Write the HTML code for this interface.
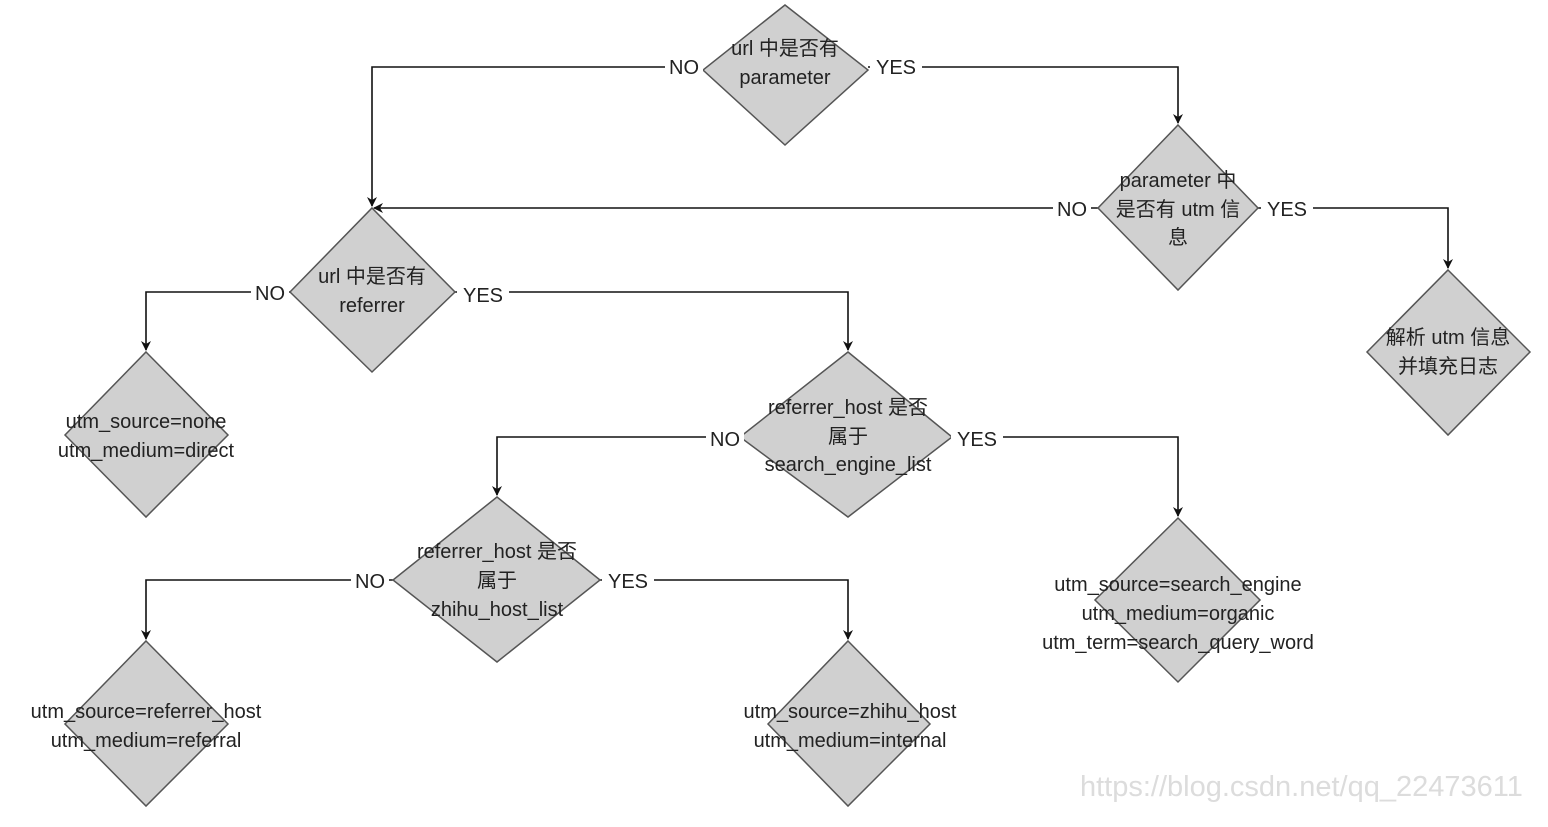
<!DOCTYPE html>
<html><head><meta charset="utf-8"><style>
html,body{margin:0;padding:0;background:#fff;}
svg text{font-family:"Liberation Sans","Noto Sans CJK SC",sans-serif;font-size:20px;fill:#222;}
</style></head><body>
<svg width="1548" height="822" viewBox="0 0 1548 822" xmlns="http://www.w3.org/2000/svg">
<defs><marker id="a" markerWidth="10" markerHeight="10" refX="9" refY="5" orient="auto" markerUnits="userSpaceOnUse"><path d="M0,0 L10,5 L0,10 L3,5 z" fill="#111"/></marker></defs>
<g fill="none" stroke="#111" stroke-width="1.6">
<polyline points="703,67 372,67 372,206" marker-end="url(#a)"/>
<polyline points="868,67 1178,67 1178,123" marker-end="url(#a)"/>
<polyline points="1098,208 374,208" marker-end="url(#a)"/>
<polyline points="1258,208 1448,208 1448,268" marker-end="url(#a)"/>
<polyline points="290,292 146,292 146,350" marker-end="url(#a)"/>
<polyline points="455,292 848,292 848,350" marker-end="url(#a)"/>
<polyline points="740,437 497,437 497,495" marker-end="url(#a)"/>
<polyline points="952,437 1178,437 1178,516" marker-end="url(#a)"/>
<polyline points="393,580 146,580 146,639" marker-end="url(#a)"/>
<polyline points="600,580 848,580 848,639" marker-end="url(#a)"/>
</g>
<g fill="#d0d0d0" stroke="#555" stroke-width="1.5">
<polygon points="785,5 868,70 785,145 703,70"/>
<polygon points="1178,125 1258,208 1178,290 1098,208"/>
<polygon points="372,208 455,292 372,372 290,292"/>
<polygon points="146,352 228,435 146,517 65,435"/>
<polygon points="848,352 952,437 848,517 740,437"/>
<polygon points="1448,270 1530,352 1448,435 1367,352"/>
<polygon points="497,497 600,580 497,662 393,580"/>
<polygon points="1178,518 1260,600 1178,682 1095,600"/>
<polygon points="146,641 228,724 146,806 65,724"/>
<polygon points="848,641 930,724 848,806 768,724"/>
</g>
<g text-anchor="middle">
<rect x="665" y="55" width="38" height="24" fill="#fff"/><text x="684" y="74">NO</text>
<rect x="870" y="55" width="52" height="24" fill="#fff"/><text x="896" y="74">YES</text>
<rect x="1053" y="196" width="38" height="24" fill="#fff"/><text x="1072" y="216">NO</text>
<rect x="1261" y="196" width="52" height="24" fill="#fff"/><text x="1287" y="216">YES</text>
<rect x="251" y="280" width="38" height="24" fill="#fff"/><text x="270" y="300">NO</text>
<rect x="457" y="280" width="52" height="24" fill="#fff"/><text x="483" y="302">YES</text>
<rect x="706" y="425" width="38" height="24" fill="#fff"/><text x="725" y="446">NO</text>
<rect x="951" y="425" width="52" height="24" fill="#fff"/><text x="977" y="446">YES</text>
<rect x="351" y="568" width="38" height="24" fill="#fff"/><text x="370" y="588">NO</text>
<rect x="602" y="568" width="52" height="24" fill="#fff"/><text x="628" y="588">YES</text>
<text x="785" y="55">url 中是否有</text><text x="785" y="84">parameter</text>
<text x="1178" y="187">parameter 中</text><text x="1178" y="216">是否有 utm 信</text><text x="1178" y="244">息</text>
<text x="372" y="283">url 中是否有</text><text x="372" y="312">referrer</text>
<text x="146" y="428">utm_source=none</text><text x="146" y="457">utm_medium=direct</text>
<text x="848" y="414">referrer_host 是否</text><text x="848" y="443">属于</text><text x="848" y="471">search_engine_list</text>
<text x="1448" y="344">解析 utm 信息</text><text x="1448" y="373">并填充日志</text>
<text x="497" y="558">referrer_host 是否</text><text x="497" y="587">属于</text><text x="497" y="616">zhihu_host_list</text>
<text x="1178" y="591">utm_source=search_engine</text><text x="1178" y="620">utm_medium=organic</text><text x="1178" y="649">utm_term=search_query_word</text>
<text x="146" y="718">utm_source=referrer_host</text><text x="146" y="747">utm_medium=referral</text>
<text x="850" y="718">utm_source=zhihu_host</text><text x="850" y="747">utm_medium=internal</text>
</g>
<text x="1080" y="796" style="font-size:29px;fill:#dcdcdc">https://blog.csdn.net/qq_22473611</text>
</svg>
</body></html>
